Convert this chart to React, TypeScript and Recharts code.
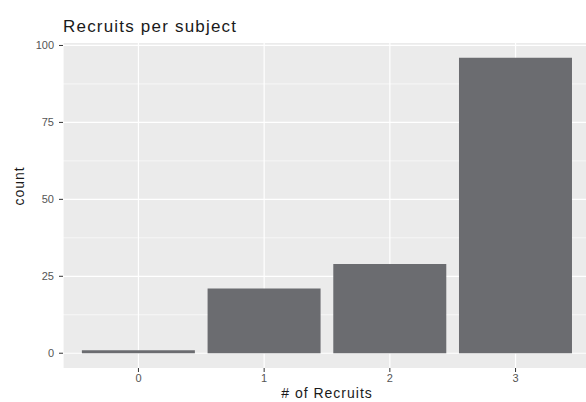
import { BarChart, Bar, XAxis, YAxis, CartesianGrid } from "recharts";

const RECRUITS = ["0", "1", "2", "3"];
const COUNTS = [1, 21, 29, 96];
const Y_TICKS = [0, 25, 50, 75, 100];
const Y_MINOR = [12.5, 37.5, 62.5, 87.5];

const data = RECRUITS.map((r, i) => ({ recruits: r, count: COUNTS[i] }));

const FONT = "'Liberation Sans', Arial, sans-serif";
const TICK = { fill: "#555555", stroke: "none", fontSize: 11, fontFamily: FONT };

export default function App() {
  return (
    <div
      style={{
        position: "fixed",
        top: 0,
        left: 0,
        width: 586,
        height: 402,
        overflow: "hidden",
        background: "#fff",
        fontFamily: FONT,
      }}
    >
      <div
        style={{
          position: "absolute",
          left: 63,
          top: 17,
          fontSize: 17,
          letterSpacing: 1.2,
          color: "#1a1a1a",
        }}
      >
        Recruits per subject
      </div>
      <BarChart
        width={591}
        height={402}
        data={data}
        margin={{ top: 43, right: 0, bottom: 0, left: 0 }}
        barCategoryGap="5%"
      >
        <CartesianGrid
          fill="#EBEBEB"
          stroke="#fff"
          strokeWidth={0.6}
          vertical={false}
          horizontalValues={Y_MINOR}
        />
        <CartesianGrid stroke="#fff" strokeWidth={1.2} horizontalValues={Y_TICKS} />
        <XAxis
          dataKey="recruits"
          padding={{ left: 12.6, right: 12.6 }}
          axisLine={false}
          tickLine={{ stroke: "#333", strokeWidth: 1 }}
          tickSize={4}
          tick={TICK}
          height={34}
          label={{
            value: "# of Recruits",
            position: "insideBottom",
            offset: 4,
            fill: "#1a1a1a",
            fontSize: 14,
            letterSpacing: 1,
            fontFamily: FONT,
          }}
        />
        <YAxis
          type="number"
          domain={[-4.8, 100.8]}
          ticks={Y_TICKS}
          allowDataOverflow
          axisLine={false}
          tickLine={{ stroke: "#333", strokeWidth: 1 }}
          tickSize={4}
          tickMargin={5}
          tick={TICK}
          width={63}
          label={{
            value: "count",
            angle: -90,
            position: "insideLeft",
            offset: 19,
            fill: "#1a1a1a",
            fontSize: 14,
            letterSpacing: 1,
            fontFamily: FONT,
          }}
        />
        <Bar dataKey="count" fill="#6b6c70" isAnimationActive={false} />
      </BarChart>
    </div>
  );
}
